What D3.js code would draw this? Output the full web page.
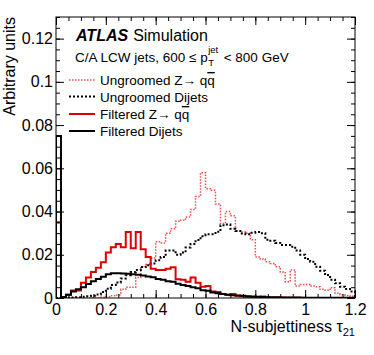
<!DOCTYPE html>
<html>
<head>
<meta charset="utf-8">
<script src="https://cdn.jsdelivr.net/npm/d3@7"></script>
<style>
  html, body { margin: 0; padding: 0; background: #fff; overflow: hidden; }
  svg { display: block; }
  text { font-family: 'Liberation Sans', Arial, Helvetica, sans-serif; }
</style>
</head>
<body>
<div id="chart"></div>
<script>
// histogram bin width in tau21, 60 bins from 0 to 1.2
const binWidth = 0.02

// bin contents (arbitrary units)
const ungroomedZ = [
  0, 0, 0, 0, 0, 0, 0, 0, 0, 0.0003,
  0.0006, 0.001, 0.0014, 0.004, 0.005, 0.005, 0.0095, 0.0145, 0.0155, 0.0185,
  0.026, 0.0255, 0.030, 0.032, 0.0355, 0.036, 0.0375, 0.041, 0.047, 0.058,
  0.0506, 0.0498, 0.0435, 0.0345, 0.040, 0.038, 0.031, 0.0305, 0.030, 0.027,
  0.019, 0.018, 0.0168, 0.016, 0.0145, 0.012, 0.0075, 0.013, 0.0055, 0.0062,
  0.0062, 0.0055, 0.0052, 0.004, 0.0036, 0.0048, 0.0022, 0.0015, 0.0012, 0.0008
]
const ungroomedDijets = [
  0, 0, 0.0001, 0.0002, 0.0004, 0.0006, 0.0008, 0.001, 0.0016, 0.0028,
  0.0043, 0.006, 0.0072, 0.009, 0.0105, 0.012, 0.013, 0.0143, 0.0152, 0.016,
  0.0175, 0.019, 0.022, 0.022, 0.020, 0.021, 0.0234, 0.025, 0.0268, 0.0286,
  0.0295, 0.0295, 0.0306, 0.0337, 0.034, 0.032, 0.031, 0.0298, 0.0295, 0.0302,
  0.0305, 0.030, 0.027, 0.0265, 0.0255, 0.0245, 0.0245, 0.0237, 0.022, 0.020,
  0.018, 0.0168, 0.0145, 0.0126, 0.0106, 0.0085, 0.0068, 0.0052, 0.0042, 0.003
]
const filteredZ = [
  0.035, 0.0003, 0.0015, 0.0035, 0.0035, 0.007, 0.0095, 0.012, 0.014, 0.0165,
  0.021, 0.0235, 0.025, 0.0235, 0.0305, 0.023, 0.0305, 0.0225, 0.019, 0.0135,
  0.013, 0.013, 0.0135, 0.0142, 0.0087, 0.0085, 0.0075, 0.0095, 0.007, 0.0052,
  0.0055, 0.003, 0.0028, 0.0018, 0.0015, 0.0018, 0.001, 0.0008, 0.0006, 0.0005,
  0.0004, 0.0007, 0.0003, 0.0002, 0.0002, 0.0002, 0.0001, 0.0001, 0.0001, 0.0001,
  0, 0, 0, 0, 0, 0, 0, 0, 0, 0
]
const filteredDijets = [
  0.075, 0.0005, 0.0015, 0.003, 0.004, 0.005, 0.0065, 0.0078, 0.0088, 0.0098,
  0.011, 0.0114, 0.0114, 0.0113, 0.0112, 0.011, 0.0107, 0.0104, 0.010, 0.0096,
  0.0088, 0.0085, 0.0078, 0.0075, 0.0066, 0.006, 0.0055, 0.005, 0.0045, 0.0036,
  0.0033, 0.0026, 0.0022, 0.0018, 0.0015, 0.0013, 0.0011, 0.001, 0.0008, 0.0007,
  0.0006, 0.0005, 0.0004, 0.0004, 0.0003, 0.0002, 0.0002, 0.0002, 0.0002, 0.0001,
  0.0001, 0.0001, 0.0001, 0.0001, 0.0001, 0.0001, 0.0001, 0.0001, 0.0001, 0.0001
]

const xTickValues = [0, 0.2, 0.4, 0.6, 0.8, 1.0, 1.2]
const xTickLabels = ['0', '0.2', '0.4', '0.6', '0.8', '1', '1.2']
const yTickValues = [0, 0.02, 0.04, 0.06, 0.08, 0.1, 0.12]
const yTickLabels = ['0', '0.02', '0.04', '0.06', '0.08', '0.1', '0.12']

// the q-qbar pair is appended as tspans below
const legendLabels = ['Ungroomed Z\u2192 ', 'Ungroomed Dijets', 'Filtered Z\u2192 ', 'Filtered Dijets']

const dims = { width: 374, height: 355, left: 56, right: 19, top: 17, bottom: 57 }
const innerWidth = dims.width - dims.left - dims.right
const innerHeight = dims.height - dims.top - dims.bottom
const font = "'Liberation Sans', Arial, Helvetica, sans-serif"

const svg = d3.select('#chart').append('svg')
  .attr('width', dims.width)
  .attr('height', dims.height)

const plot = svg.append('g')
  .attr('transform', `translate(${dims.left},${dims.top})`)

const xScale = d3.scaleLinear().domain([0, 1.2]).range([0, innerWidth])
const yScale = d3.scaleLinear().domain([0, 0.13]).range([innerHeight, 0])

svg.append('defs').append('clipPath').attr('id', 'clip')
  .append('rect').attr('width', innerWidth).attr('height', innerHeight + 1).attr('y', -1)

// step outline of a histogram
const histLine = d3.line()
  .x(d => xScale(d[0]))
  .y(d => yScale(d[1]))
  .curve(d3.curveStepAfter)

const toSteps = (values) => {
  const pts = [[0, 0]]
  values.forEach((v, i) => pts.push([i * binWidth, v]))
  pts.push([values.length * binWidth, values[values.length - 1]])
  pts.push([values.length * binWidth, 0])
  return pts
}

const series = [
  { values: ungroomedZ, color: '#ee2a2a', width: 1.5, dash: '1.5,1.5', opacity: 0.85 },
  { values: ungroomedDijets, color: '#000', width: 2, dash: '2,2', opacity: 1 },
  { values: filteredZ, color: '#dd0000', width: 2, dash: null, opacity: 1 },
  { values: filteredDijets, color: '#000', width: 2, dash: null, opacity: 1 }
]

const marks = plot.append('g').attr('clip-path', 'url(#clip)')
series.forEach(s => {
  marks.append('path')
    .datum(toSteps(s.values))
    .attr('d', histLine)
    .attr('fill', 'none')
    .attr('stroke', s.color)
    .attr('stroke-width', s.width)
    .attr('stroke-dasharray', s.dash)
    .attr('stroke-opacity', s.opacity)
})

// axes: ROOT style, ticks pointing inward on all four sides
const xMinor = d3.range(0, 1.2001, 0.05)
const yMinor = d3.range(0, 0.1301, 0.005)

const styleAxis = (g) => {
  g.select('.domain').remove()
  g.selectAll('line').attr('stroke', '#000')
  g.selectAll('text').attr('font-family', font).attr('font-size', 16).attr('fill', '#000')
}
// tick marks only, no labels
const bareAxis = (g) => {
  g.select('.domain').remove()
  g.selectAll('line').attr('stroke', '#000')
  g.selectAll('text').remove()
}

plot.append('g').attr('transform', `translate(0,${innerHeight})`)
  .call(d3.axisBottom(xScale).tickValues(xTickValues).tickSize(-8).tickPadding(6)
    .tickFormat((d, i) => xTickLabels[i]))
  .call(styleAxis)
plot.append('g').attr('transform', `translate(0,${innerHeight})`)
  .call(d3.axisBottom(xScale).tickValues(xMinor).tickSize(-4))
  .call(bareAxis)
plot.append('g')
  .call(d3.axisTop(xScale).tickValues(xTickValues).tickSize(-8))
  .call(bareAxis)
plot.append('g')
  .call(d3.axisTop(xScale).tickValues(xMinor).tickSize(-4))
  .call(bareAxis)

plot.append('g')
  .call(d3.axisLeft(yScale).tickValues(yTickValues).tickSize(-8).tickPadding(3)
    .tickFormat((d, i) => yTickLabels[i]))
  .call(styleAxis)
plot.append('g')
  .call(d3.axisLeft(yScale).tickValues(yMinor).tickSize(-4))
  .call(bareAxis)
plot.append('g').attr('transform', `translate(${innerWidth},0)`)
  .call(d3.axisRight(yScale).tickValues(yTickValues).tickSize(-8))
  .call(bareAxis)
plot.append('g').attr('transform', `translate(${innerWidth},0)`)
  .call(d3.axisRight(yScale).tickValues(yMinor).tickSize(-4))
  .call(bareAxis)

plot.append('rect')
  .attr('width', innerWidth).attr('height', innerHeight)
  .attr('fill', 'none').attr('stroke', '#000').attr('stroke-width', 1)

// axis titles
svg.append('text')
  .attr('transform', `translate(15,${dims.top}) rotate(-90)`)
  .attr('text-anchor', 'end')
  .attr('font-family', font).attr('font-size', 16)
  .text('Arbitrary units')

const xTitle = svg.append('text')
  .attr('x', dims.left + innerWidth).attr('y', 332)
  .attr('text-anchor', 'end')
  .attr('font-family', font).attr('font-size', 16)
xTitle.append('tspan').text('N-subjettiness \u03c4')
xTitle.append('tspan').attr('font-size', 11).attr('dy', 4).text('21')

// ATLAS label
const atlas = svg.append('text').attr('x', 76).attr('y', 41)
  .attr('font-family', font).attr('font-size', 16)
atlas.append('tspan').attr('font-weight', 'bold').attr('font-style', 'italic').text('ATLAS')
atlas.append('tspan').attr('dx', 5).text('Simulation')

// selection label with p_T^jet
const selLeft = svg.append('text').attr('x', 75).attr('y', 62)
  .attr('font-family', font).attr('font-size', 13.5)
  .text('C/A LCW jets, 600 \u2264 p')
const pEnd = 75 + selLeft.node().getComputedTextLength()
svg.append('text').attr('x', pEnd + 0.5).attr('y', 53)
  .attr('font-family', font).attr('font-size', 9.5).text('jet')
svg.append('text').attr('x', pEnd + 0.5).attr('y', 66)
  .attr('font-family', font).attr('font-size', 9.5).text('T')
svg.append('text').attr('x', pEnd + 16).attr('y', 62)
  .attr('font-family', font).attr('font-size', 13.5)
  .text('< 800 GeV')

// legend
const legendRowY = [80, 96.5, 114, 131]
series.forEach((s, i) => {
  svg.append('line')
    .attr('x1', 69).attr('x2', 95)
    .attr('y1', legendRowY[i]).attr('y2', legendRowY[i])
    .attr('stroke', s.color)
    .attr('stroke-width', s.width)
    .attr('stroke-dasharray', s.dash)
    .attr('stroke-opacity', s.opacity)
  const t = svg.append('text')
    .attr('x', 100).attr('y', legendRowY[i] + 5)
    .attr('font-family', font).attr('font-size', 13.5)
    .text(legendLabels[i])
  if (i === 0 || i === 2) {
    t.append('tspan').text('q')
    t.append('tspan').attr('text-decoration', 'overline').text('q')
  }
})
</script>
</body>
</html>
